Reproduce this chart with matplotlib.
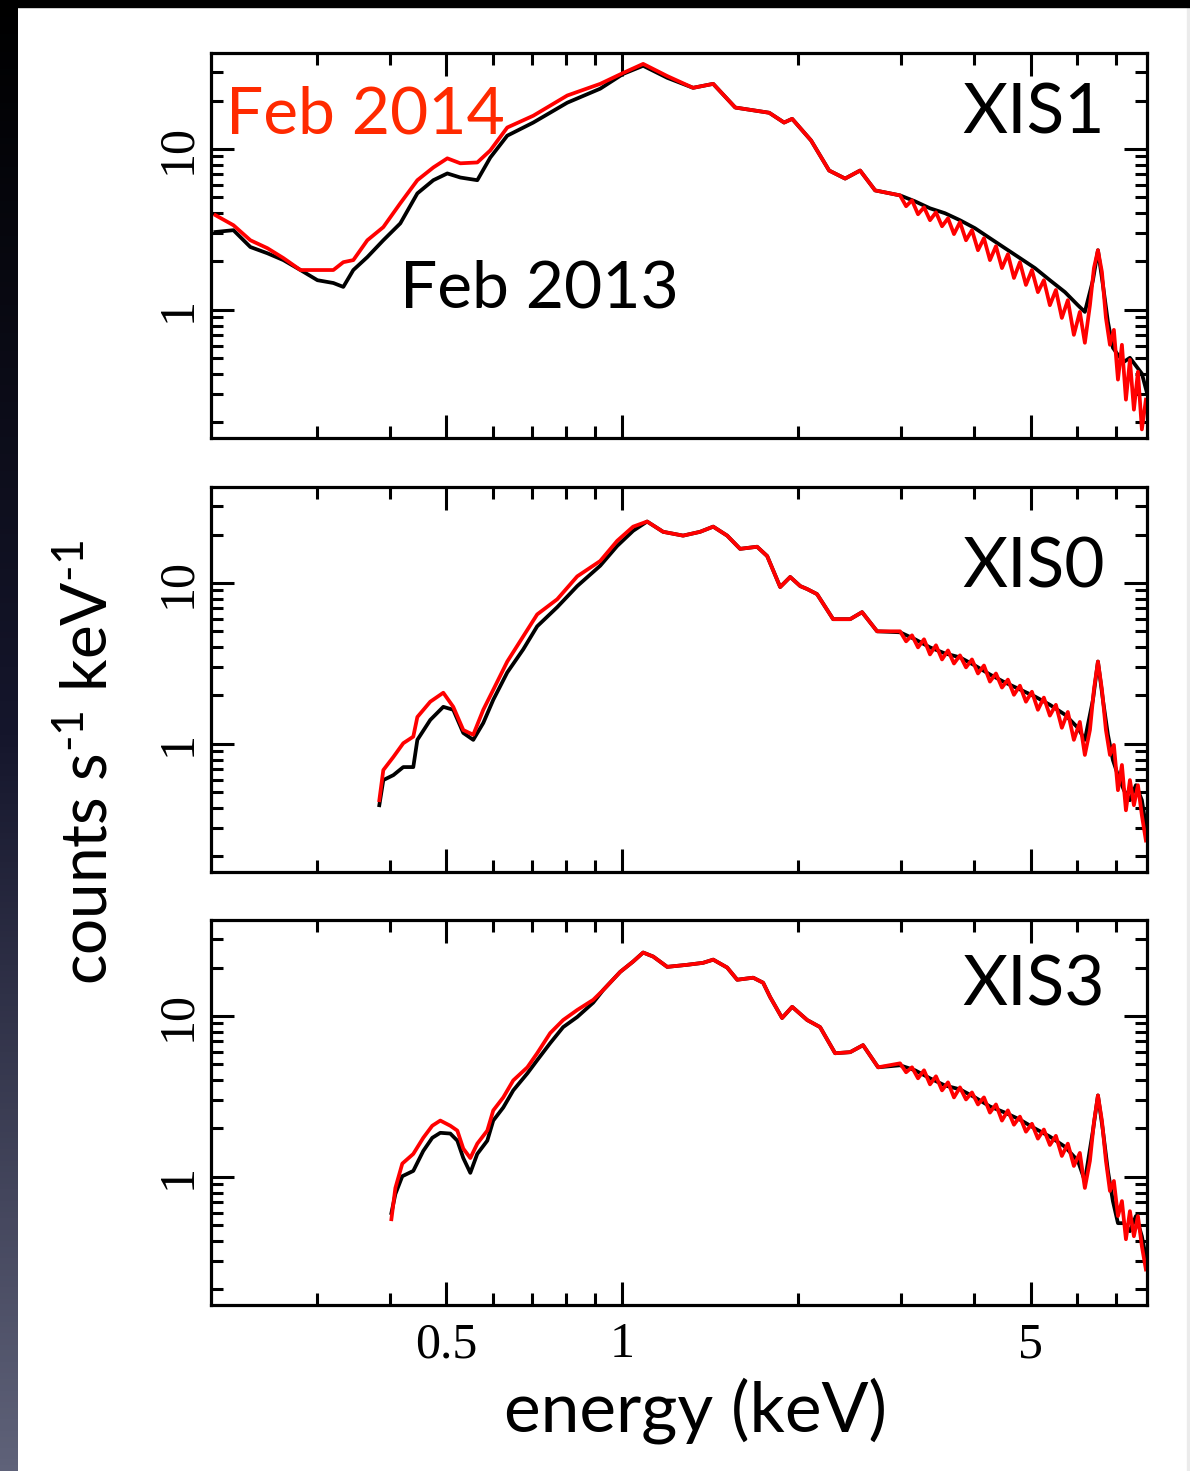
# Suzaku XIS spectra, Feb 2013 vs Feb 2014
import matplotlib
matplotlib.use('Agg')
import matplotlib.pyplot as plt
import numpy as np
from matplotlib.colors import LinearSegmentedColormap
from matplotlib.patches import Rectangle
from matplotlib.ticker import FixedLocator, NullFormatter

plt.rcParams['font.family'] = ['Lato', 'DejaVu Sans']
plt.rcParams['mathtext.fontset'] = 'custom'
plt.rcParams['mathtext.rm'] = 'Lato'
plt.rcParams['mathtext.it'] = 'Lato'

# ---- soft band (below ~2.8 keV), one energy grid per detector ----
# XIS1 (top panel)
xis1_energy = [0.2015, 0.2163, 0.2312, 0.2472, 0.2633, 0.2816, 0.3011, 0.3206, 0.3334, 0.3468,
               0.3665, 0.3903, 0.4173, 0.4463, 0.4753, 0.5022, 0.5286, 0.5652, 0.5948, 0.6359,
               0.7045, 0.8054, 0.917, 1.004, 1.086, 1.194, 1.322, 1.431, 1.561, 1.784,
               1.892, 1.953, 2.104, 2.259, 2.406, 2.552, 2.708]
xis1_2013 = [3.05, 3.13, 2.46, 2.25, 2.04, 1.77, 1.53, 1.47, 1.39, 1.77,
             2.13, 2.71, 3.45, 5.3, 6.4, 7.05, 6.65, 6.4, 8.85, 12.1,
             14.6, 19.4, 23.7, 29.3, 32.9, 27.7, 24.0, 25.4, 18.1, 16.8,
             14.6, 15.4, 11.3, 7.35, 6.55, 7.35, 5.53]
xis1_2014 = [3.88, 3.36, 2.71, 2.42, 2.1, 1.77, 1.77, 1.77, 1.98, 2.04,
             2.71, 3.27, 4.6, 6.4, 7.68, 8.75, 8.15, 8.25, 9.8, 13.6,
             16.1, 21.5, 25.4, 29.7, 33.8, 28.4, 24.0, 25.4, 18.1, 16.8,
             14.6, 15.4, 11.3, 7.35, 6.55, 7.35, 5.53]

# XIS0 (middle panel)
xis0_energy = [0.3842, 0.3903, 0.4061, 0.4222, 0.4392, 0.4463, 0.4696, 0.4943, 0.5141, 0.5348,
               0.5562, 0.5786, 0.6018, 0.6359, 0.6772, 0.7154, 0.7743, 0.8377, 0.917, 0.9806,
               1.044, 1.103, 1.175, 1.271, 1.359, 1.431, 1.512, 1.591, 1.701, 1.77,
               1.863, 1.938, 2.016, 2.072, 2.154, 2.295, 2.454, 2.572, 2.729]
xis0_2013 = [0.416, 0.596, 0.64, 0.718, 0.718, 1.06, 1.41, 1.70, 1.63, 1.17,
             1.06, 1.35, 1.88, 2.78, 3.87, 5.38, 7.08, 9.57, 12.8, 17.0,
             21.1, 24.1, 20.8, 19.7, 20.8, 22.4, 19.7, 16.3, 16.8, 14.7,
             9.44, 10.9, 9.57, 9.17, 8.53, 5.96, 5.96, 6.59, 5.01]
xis0_2014 = [0.447, 0.688, 0.83, 1.01, 1.11, 1.47, 1.83, 2.08, 1.70, 1.22,
             1.14, 1.63, 2.17, 3.25, 4.66, 6.38, 7.93, 11.0, 13.7, 18.3,
             22.4, 24.1, 20.8, 19.7, 20.8, 22.4, 19.7, 16.3, 16.8, 14.7,
             9.44, 10.9, 9.57, 9.17, 8.53, 5.96, 5.96, 6.59, 5.01]

# XIS3 (bottom panel)
xis3_energy = [0.4029, 0.4093, 0.4206, 0.4392, 0.4568, 0.4733, 0.4885, 0.5081, 0.5224, 0.5348,
               0.5498, 0.5651, 0.5878, 0.6018, 0.626, 0.6511, 0.6883, 0.7154, 0.753, 0.7925,
               0.8377, 0.892, 0.9279, 0.9922, 1.044, 1.086, 1.13, 1.194, 1.291, 1.375,
               1.431, 1.512, 1.573, 1.675, 1.742, 1.791, 1.877, 1.953, 2.072, 2.18,
               2.313, 2.454, 2.582, 2.74]
xis3_2013 = [0.596, 0.783, 1.01, 1.09, 1.45, 1.75, 1.88, 1.86, 1.68, 1.31,
             1.06, 1.39, 1.68, 2.24, 2.70, 3.45, 4.40, 5.31, 6.78, 8.53,
             9.86, 12.1, 14.5, 18.8, 21.8, 24.8, 23.4, 20.2, 20.8, 21.4,
             22.4, 20.0, 16.8, 17.3, 16.1, 13.1, 9.72, 11.4, 9.44, 8.53,
             5.87, 5.96, 6.59, 4.80]
xis3_2014 = [0.546, 0.854, 1.21, 1.39, 1.75, 2.08, 2.24, 2.08, 1.94, 1.50,
             1.31, 1.61, 1.94, 2.59, 3.12, 3.98, 4.80, 5.87, 7.83, 9.44,
             10.9, 12.6, 14.5, 18.8, 21.8, 24.8, 23.4, 20.2, 20.8, 21.4,
             22.4, 20.0, 16.8, 17.3, 16.1, 13.1, 9.72, 11.4, 9.44, 8.53,
             5.87, 5.96, 6.59, 4.80]

# ---- hard band (3-8 keV), denser sampling to follow the noisy traces ----
hard_energy_2013 = [2.987, 3.168, 3.361, 3.565, 3.782, 4.012, 4.256, 4.515, 4.789, 5.081,
                    5.389, 5.719, 6.017, 6.185, 6.385, 6.512, 6.641, 6.773, 6.907, 7.046,
                    7.214, 7.386, 7.562, 7.742, 7.89]
xis1_hard_2013 = [5.15, 4.73, 4.28, 3.99, 3.61, 3.22, 2.79, 2.42, 2.10, 1.82,
                  1.53, 1.29, 1.07, 0.972, 1.53, 2.35, 1.43, 0.843, 0.582, 0.526,
                  0.476, 0.504, 0.45, 0.402, 0.31]
xis0_hard_2013 = [4.94, 4.47, 3.98, 3.65, 3.45, 3.07, 2.70, 2.41, 2.18, 1.97,
                  1.75, 1.52, 1.26, 1.06, 1.88, 3.25, 1.88, 1.14, 0.794, 0.64,
                  0.516, 0.447, 0.554, 0.447, 0.29]
xis3_hard_2013 = [4.94, 4.60, 4.10, 3.70, 3.50, 3.12, 2.74, 2.51, 2.27, 2.0,
                  1.78, 1.54, 1.26, 0.944, 1.94, 3.21, 1.94, 1.09, 0.708, 0.516,
                  0.516, 0.46, 0.571, 0.428, 0.299]

hard_energy_2014 = [2.987, 3.059, 3.131, 3.206, 3.283, 3.361, 3.441, 3.524, 3.608, 3.694,
                    3.782, 3.873, 3.965, 4.060, 4.157, 4.256, 4.358, 4.462, 4.568, 4.678,
                    4.789, 4.904, 5.021, 5.141, 5.263, 5.389, 5.518, 5.649, 5.784, 5.923,
                    6.064, 6.185, 6.310, 6.410, 6.512, 6.615, 6.720, 6.827, 6.934, 7.046,
                    7.157, 7.271, 7.386, 7.503, 7.623, 7.742, 7.866]
xis1_hard_2014 = [5.15, 4.41, 4.80, 3.93, 4.34, 3.61, 4.04, 3.31, 3.71, 2.96,
                  3.51, 2.71, 3.13, 2.35, 2.79, 2.04, 2.49, 1.82, 2.22, 1.58,
                  1.98, 1.43, 1.77, 1.29, 1.53, 1.07, 1.33, 0.892, 1.15, 0.70,
                  0.972, 0.625, 1.07, 1.82, 2.35, 1.72, 0.892, 0.607, 0.752, 0.369,
                  0.607, 0.277, 0.49, 0.240, 0.413, 0.181, 0.277]
xis0_hard_2014 = [5.01, 4.34, 4.73, 3.98, 4.47, 3.60, 4.10, 3.35, 3.81, 3.16,
                  3.55, 2.99, 3.35, 2.74, 3.07, 2.44, 2.74, 2.24, 2.51, 2.02,
                  2.30, 1.83, 2.11, 1.63, 1.94, 1.50, 1.75, 1.26, 1.58, 1.06,
                  1.37, 0.854, 1.22, 2.18, 3.25, 2.18, 1.22, 0.854, 0.986, 0.516,
                  0.74, 0.387, 0.596, 0.416, 0.554, 0.36, 0.251]
xis3_hard_2014 = [5.08, 4.47, 4.80, 4.10, 4.60, 3.76, 4.22, 3.45, 3.87, 3.12,
                  3.60, 3.03, 3.35, 2.82, 3.12, 2.51, 2.82, 2.24, 2.59, 2.11,
                  2.37, 1.91, 2.14, 1.73, 1.97, 1.58, 1.80, 1.35, 1.61, 1.17,
                  1.41, 0.854, 1.26, 2.18, 3.21, 2.24, 1.26, 0.818, 0.944, 0.571,
                  0.708, 0.41, 0.613, 0.428, 0.571, 0.371, 0.266]

x_major = [0.5, 1, 5]
x_major_labels = ['0.5', '1', '5']
x_minor = [0.3, 0.4, 0.6, 0.7, 0.8, 0.9, 2, 3, 4, 6, 7]
y_major = [1, 10]
y_major_labels = ['1', '10']
y_minor = [0.2, 0.3, 0.4, 0.5, 0.6, 0.7, 0.8, 0.9, 2, 3, 4, 5, 6, 7, 8, 9, 20, 30]

W, H = 1190, 1471
fig = plt.figure(figsize=(W / 100, H / 100), dpi=100)
fig.patch.set_facecolor('white')

# slide background: dark gradient strip on the left, black bar on top
strip = fig.add_axes([0, 0, 18 / W, 1])
cmap = LinearSegmentedColormap.from_list('slide', ['#000000', '#15162c', '#5f6279'])
strip.imshow(np.linspace(0, 1, 256).reshape(-1, 1), aspect='auto', cmap=cmap,
             extent=[0, 1, 0, 1], origin='upper')
strip.axis('off')
fig.add_artist(Rectangle((0, 1 - 7 / H), 1, 7 / H, transform=fig.transFigure,
                         color='black', zorder=5))
fig.add_artist(Rectangle((1187 / W, 0), 3 / W, 1, transform=fig.transFigure,
                         color='#ebebeb', zorder=0))

left, width = 211 / W, 936 / W
height = 385 / H
panels = [
    ('XIS1', xis1_energy, xis1_2013, xis1_2014, xis1_hard_2013, xis1_hard_2014, 1 - 438 / H, 0.792),
    ('XIS0', xis0_energy, xis0_2013, xis0_2014, xis0_hard_2013, xis0_hard_2014, 1 - 872 / H, 0.738),
    ('XIS3', xis3_energy, xis3_2013, xis3_2014, xis3_hard_2013, xis3_hard_2014, 1 - 1305 / H, 0.779),
]

tick_font = 'Liberation Serif'
axes = []
for name, energy, old, new, old_hard, new_hard, y0, label_y in panels:
    ax = fig.add_axes([left, y0, width, height])
    ax.plot(energy + hard_energy_2013, old + old_hard, color='black', lw=2.7)
    ax.plot(energy + hard_energy_2014, new + new_hard, color='#ff0000', lw=2.7)
    ax.set_xscale('log')
    ax.set_yscale('log')
    ax.set_xlim(0.198, 7.9)
    ax.set_ylim(0.16, 39.5)

    ax.xaxis.set_major_locator(FixedLocator(x_major))
    ax.xaxis.set_minor_locator(FixedLocator(x_minor))
    ax.xaxis.set_minor_formatter(NullFormatter())
    ax.yaxis.set_major_locator(FixedLocator(y_major))
    ax.yaxis.set_minor_locator(FixedLocator(y_minor))
    ax.yaxis.set_minor_formatter(NullFormatter())
    ax.set_yticklabels(y_major_labels, rotation=90, va='center',
                       fontfamily=tick_font, fontsize=36)
    ax.set_xticklabels(x_major_labels, fontfamily=tick_font, fontsize=36)

    ax.tick_params(which='both', direction='in', top=True, right=True, width=2.2, color='black')
    ax.tick_params(which='major', length=16.5)
    ax.tick_params(which='minor', length=8.5)
    ax.tick_params(axis='y', pad=7)
    ax.tick_params(axis='x', pad=12)
    for sp in ax.spines.values():
        sp.set_linewidth(2.3)

    ax.text(0.955, label_y, name, transform=ax.transAxes, ha='right', va='baseline',
            fontsize=50, color='black')
    axes.append(ax)

for ax in axes[:-1]:
    ax.tick_params(axis='x', labelbottom=False)

axes[0].text(0.016, 0.792, 'Feb 2014', transform=axes[0].transAxes, ha='left',
             va='baseline', fontsize=47.5, color='#ff2a00')
axes[0].text(0.202, 0.340, 'Feb 2013', transform=axes[0].transAxes, ha='left',
             va='baseline', fontsize=47.5, color='black')

fig.text(696 / W, 1 - 1432 / H, 'energy (keV)', ha='center', va='baseline', fontsize=50)
fig.text(108 / W, 1 - 762 / H, r'counts s$^{\text{-1}}$ keV$^{\text{-1}}$', rotation=90,
         rotation_mode='anchor', ha='center', va='baseline', fontsize=46)

fig.savefig('out.png', dpi=100)
